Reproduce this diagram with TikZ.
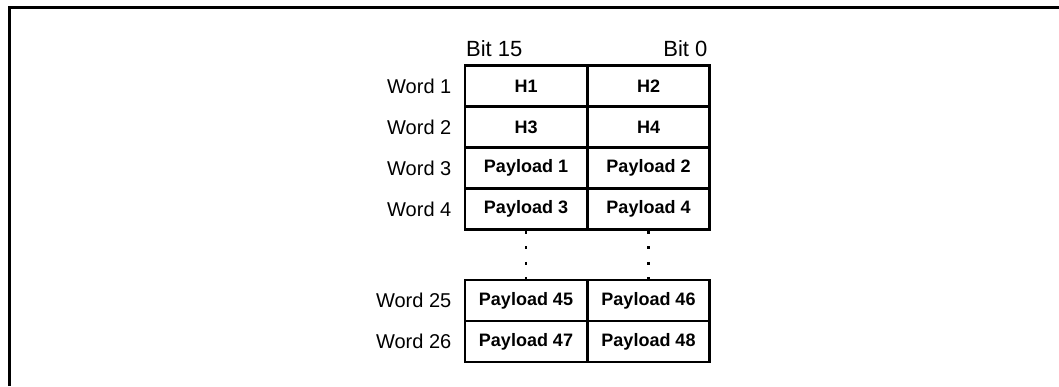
\documentclass[tikz,border=0pt]{standalone}
\usepackage{fontspec}
\setmainfont{Liberation Sans}
\usepackage{tikz}
\usetikzlibrary{positioning}

\begin{document}
\begin{tikzpicture}[x=0.5pt, y=0.5pt,
    cell/.style={draw, line width=1.3pt, minimum width=61pt, minimum height=20.5pt,
      inner sep=0pt, font=\bfseries\fontsize{9}{10}\selectfont},
    word/.style={inner sep=0pt, font=\fontsize{10}{12}\selectfont},
    bitlbl/.style={inner sep=0pt, font=\fontsize{11}{12}\selectfont}]
  \useasboundingbox (0,0) rectangle (1059,386);
  % ---- outer frame ----
  \draw[line width=1.5pt] (9,0) -- (9,378) -- (1059,378);
  % ---- first words ----
  \foreach \w/\a/\b [count=\i] in {1/H1/H2, 2/H3/H4,
      3/Payload 1/Payload 2, 4/Payload 3/Payload 4} {
    \node[cell] (w\w a) at (526,341-41*\i) {\a};
    \node[cell] (w\w b) at (648.5,341-41*\i) {\b};
    \node[word, left=6pt of w\w a] (lbl\w) {Word \w};
  }
  \node[bitlbl, anchor=base west] (bit15) at ([shift={(1pt,4pt)}]w1a.north west) {Bit 15};
  \node[bitlbl, anchor=base east] (bit0) at ([shift={(-1.5pt,4pt)}]w1b.north east) {Bit 0};
  % ---- last words ----
  \foreach \w/\a/\b [count=\i] in {25/Payload 45/Payload 46, 26/Payload 47/Payload 48} {
    \node[cell] (w\w a) at (526,126.5-41*\i) {\a};
    \node[cell] (w\w b) at (648.5,126.5-41*\i) {\b};
    \node[word, left=6pt of w\w a] (lbl\w) {Word \w};
  }
  % ---- skipped words ----
  \draw[line width=1.2pt, dash pattern=on 1.5pt off 6.25pt] (w4a.south) -- (w25a.north);
  \draw[line width=1.2pt, dash pattern=on 1.5pt off 6.25pt] (w4b.south) -- (w25b.north);
\end{tikzpicture}
\end{document}
